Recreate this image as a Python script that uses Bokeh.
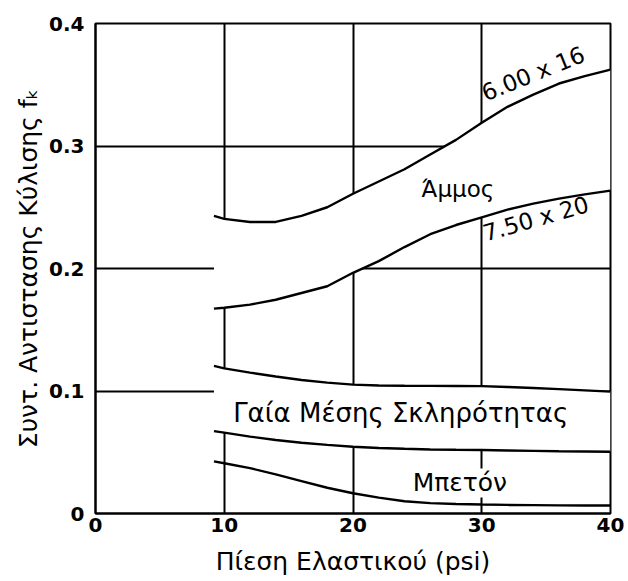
import math
from bokeh.plotting import figure
from bokeh.models import Label, FixedTicker
from bokeh.embed import file_html
from bokeh.resources import INLINE

# ---- data ----
x_vals = [9.2, 10, 12, 14, 16, 18, 20, 22, 24, 26, 28, 30, 32, 34, 36, 38, 40]

sand_6x16 = [0.243, 0.2405, 0.238, 0.238, 0.243, 0.250, 0.261, 0.271, 0.281, 0.293,
             0.305, 0.319, 0.332, 0.342, 0.351, 0.357, 0.3624]
sand_75x20 = [0.1672, 0.168, 0.1705, 0.1745, 0.180, 0.1855, 0.1965, 0.206, 0.2175, 0.228,
              0.2355, 0.2418, 0.248, 0.253, 0.257, 0.2605, 0.2636]
soil_upper = [0.1205, 0.1185, 0.1150, 0.1118, 0.1090, 0.1068, 0.1052, 0.1045, 0.1043, 0.1042,
              0.1041, 0.1040, 0.1033, 0.1025, 0.1015, 0.1005, 0.0995]
soil_lower = [0.0672, 0.0660, 0.0628, 0.0600, 0.0578, 0.0560, 0.0545, 0.0535, 0.0528, 0.0523,
              0.0520, 0.0518, 0.0514, 0.0511, 0.0508, 0.0506, 0.0504]
concrete = [0.0425, 0.0410, 0.0370, 0.0320, 0.0265, 0.0210, 0.0165, 0.0130, 0.0100, 0.0085,
            0.0077, 0.0073, 0.0070, 0.0068, 0.0066, 0.0065, 0.0065]

x_ticks = [0, 10, 20, 30, 40]
x_tick_labels = ["0", "10", "20", "30", "40"]
y_ticks = [0, 0.1, 0.2, 0.3, 0.4]
y_tick_labels = ["0", "0.1", "0.2", "0.3", "0.4"]
grid_x = [10, 20, 30]
grid_y = [0.1, 0.2, 0.3]

x_title = "Πίεση Ελαστικού (psi)"
y_title = "Συντ. Αντιστασης Κύλισης fₖ"

FONT = "DejaVu Sans"

p = figure(width=628, height=581, x_range=(0, 40), y_range=(0, 0.4),
           output_backend="svg", toolbar_location=None,
           min_border_left=95, min_border_right=18,
           min_border_top=23, min_border_bottom=68)
p.background_fill_color = "white"
p.border_fill_color = "white"
p.outline_line_color = "black"
p.outline_line_width = 2

for ax, ticks, labels in ((p.xaxis, x_ticks, x_tick_labels), (p.yaxis, y_ticks, y_tick_labels)):
    ax.ticker = FixedTicker(ticks=ticks)
    ax.major_label_overrides = {t: l for t, l in zip(ticks, labels)}
    ax.axis_line_color = "black"
    ax.axis_line_width = 2
    ax.major_tick_in = 0
    ax.major_tick_out = 0
    ax.minor_tick_in = 0
    ax.minor_tick_out = 0
    ax.major_tick_line_color = None
    ax.minor_tick_line_color = None
    ax.major_label_text_font = FONT
    ax.major_label_text_font_size = "20px"
    ax.major_label_text_font_style = "bold"
    ax.major_label_text_color = "black"
    ax.axis_label_text_font = FONT
    ax.axis_label_text_font_size = "25px"
    ax.axis_label_text_font_style = "normal"
    ax.axis_label_text_color = "black"

p.xaxis.axis_label = x_title
p.yaxis.axis_label = y_title
p.xaxis.major_label_standoff = 4
p.xaxis.axis_label_standoff = 12
p.yaxis.major_label_standoff = 11
p.yaxis.axis_label_standoff = 3

p.xgrid.ticker = FixedTicker(ticks=grid_x)
p.ygrid.ticker = FixedTicker(ticks=grid_y)
for g in (p.xgrid, p.ygrid):
    g.grid_line_color = "black"
    g.grid_line_width = 2
    g.grid_line_alpha = 1.0

# white bands that hide the grid
p.varea(x=x_vals, y1=sand_75x20, y2=sand_6x16, fill_color="white")
p.varea(x=x_vals, y1=soil_lower, y2=soil_upper, fill_color="white")

for ys in (sand_6x16, sand_75x20, soil_upper, soil_lower, concrete):
    p.line(x=x_vals, y=ys, line_color="black", line_width=2.4)

def lab(txt, x, y, size, angle_deg=0, bg=None):
    l = Label(x=x, y=y, text=txt, text_font=FONT, text_font_size=size,
              text_align="center", text_baseline="middle", text_color="black",
              angle=math.radians(angle_deg))
    if bg:
        l.background_fill_color = bg
    p.add_layout(l)

lab("6.00 x 16", 34.0, 0.359, "23px", 22)
lab("Άμμος", 28.15, 0.2645, "23px")
lab("7.50 x 20", 34.2, 0.2406, "23px", 16)
lab("Γαία Μέσης Σκληρότητας", 23.7, 0.0824, "26px")
lab("Μπετόν", 28.3, 0.0249, "25px", bg="white")

open("out.html", "w").write(file_html(p, INLINE))
